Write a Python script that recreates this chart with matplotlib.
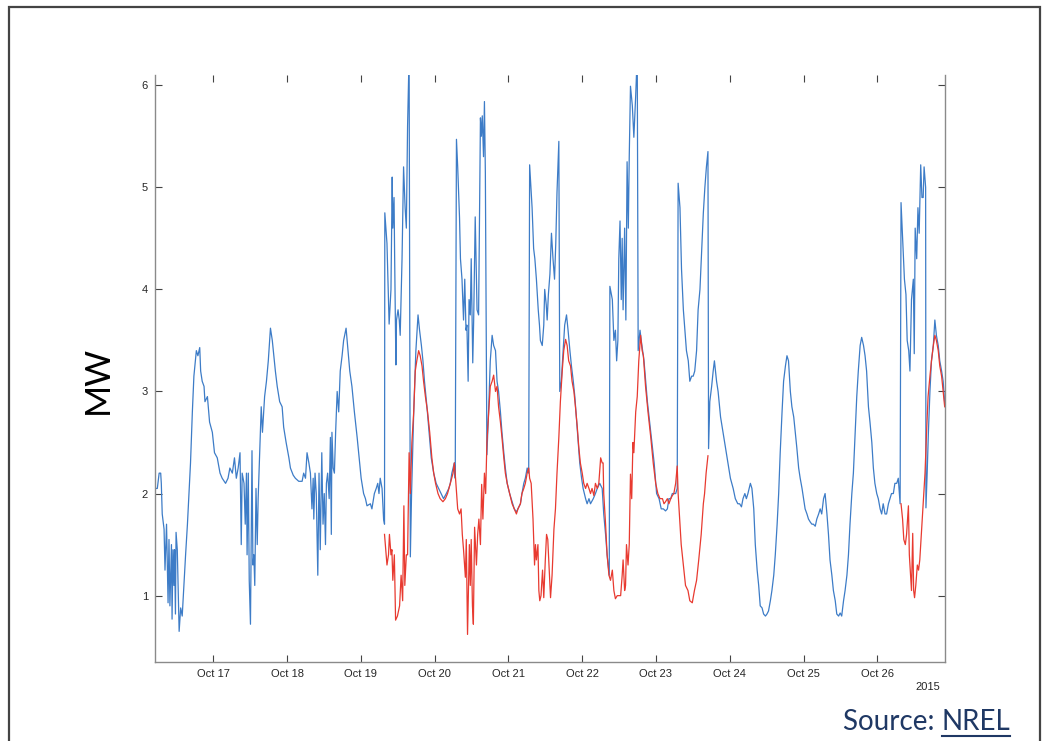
import numpy as np
import matplotlib
matplotlib.use("Agg")
import matplotlib.pyplot as plt
import matplotlib.dates as mdates
from matplotlib.patches import Rectangle
from matplotlib.lines import Line2D
from datetime import datetime, timedelta

# hours after 2015-10-16 00:00, and load in MW
blue_t = [
    5.1, 5.8, 6.4, 6.9, 7.1, 7.4, 8.0, 8.3, 8.8, 9.3, 9.6, 9.9, 10.4, 10.6, 10.9, 11.2, 11.4, 11.7,
    11.9, 12.3, 12.9, 13.4, 13.9, 15.0, 15.6, 16.1, 16.6, 17.2, 17.7, 18.5, 19.0, 19.6, 19.9, 20.4,
    21.0, 21.3, 22.1, 22.8, 23.7,
    24.4, 25.3, 26.2, 26.9, 28.0, 28.8, 29.4, 30.2, 30.9, 31.5, 32.1, 32.7, 33.1, 33.4, 34.0, 34.4,
    34.8, 35.0, 35.4, 35.7, 36.1, 36.6, 36.9, 37.2, 37.5, 37.9, 38.3, 38.6, 39.0, 39.6, 40.0, 40.7,
    41.3, 41.9, 42.6, 43.2, 43.7, 44.2, 44.8, 45.6, 46.4, 46.9, 47.7,
    48.6, 49.1, 50.0, 50.7, 51.8, 52.9, 53.4, 54.0, 54.5, 55.1, 55.6, 56.1, 56.5, 56.7, 57.1, 57.5,
    58.0, 58.4, 58.8, 59.3, 59.7, 60.1, 60.5, 60.8, 61.2, 61.7, 62.1, 62.4, 62.6, 63.0, 63.4, 63.8,
    64.3, 64.8, 65.3, 65.9, 66.4, 67.2, 67.7, 68.4, 69.1, 69.9, 70.8, 71.6,
    72.1, 72.9, 73.5, 74.0, 75.1, 75.6, 76.4, 77.0, 77.5, 77.9, 78.3, 78.9, 79.4, 79.7, 79.8, 80.5,
    81.2, 81.8, 82.2, 82.4, 82.8, 83.0, 83.4, 83.6, 84.1, 84.5, 84.8, 85.4, 85.9, 86.4, 86.8, 87.2,
    87.7, 88.1, 88.5, 89.2, 89.9, 90.6, 91.1, 91.7, 92.2, 92.7, 93.5, 94.2, 94.9, 95.7,
    96.5, 97.3, 98.1, 98.9, 99.8, 100.6, 101.1, 101.6, 102.4, 102.7, 103.1, 103.5, 104.1, 104.4,
    104.9, 105.4, 105.8, 106.2, 106.5, 106.9, 107.2, 107.6, 107.9, 108.4, 108.7, 109.2, 109.8,
    110.3, 110.9, 111.2, 111.5, 111.9, 112.2, 112.5, 113.0, 113.6, 114.1, 114.7, 115.2, 115.8,
    116.3, 116.8, 117.4, 117.9, 118.5, 119.0, 119.6,
    120.4, 121.2, 121.9, 122.6, 123.1, 123.9, 124.4, 125.0, 125.5, 126.1, 126.6, 126.9, 127.7,
    128.2, 128.6, 129.1, 129.7, 130.1, 130.4, 131.0, 131.5, 131.8, 132.3, 132.6, 133.0, 133.5,
    134.0, 134.5, 135.0, 135.4, 135.8, 136.4, 136.7, 137.2, 137.8, 138.3, 138.9, 139.4, 140.0,
    140.5, 141.1, 141.6, 142.1, 142.7, 143.2, 143.8,
    144.3, 145.1, 145.6, 146.2, 146.7, 147.6, 148.3, 148.9, 149.7, 150.5, 151.0, 151.6, 152.1,
    152.8, 153.0, 153.8, 154.3, 154.8, 155.2, 155.6, 155.9, 156.3, 156.7, 157.0, 157.3, 157.8,
    158.2, 158.6, 159.0, 159.3, 159.7, 160.3, 160.8, 161.4, 161.9, 162.2, 162.8, 163.2, 164.1,
    165.2, 166.3, 167.4,
    168.2, 169.0, 169.7, 170.4, 171.1, 171.7, 172.2, 172.8, 173.3, 173.8, 174.4, 174.9, 175.2,
    175.8, 176.3, 176.9, 177.4, 177.9, 178.5, 179.0, 179.6, 180.1, 180.6, 181.2, 181.7, 182.3,
    182.8, 183.4, 183.9, 184.4, 184.9, 185.1, 185.5, 186.1, 186.6, 187.0, 187.7, 188.2, 189.0,
    189.8, 190.6, 191.4,
    192.2, 193.1, 193.8, 194.6, 195.2, 195.8, 196.3, 196.9, 197.4, 197.9, 198.7, 199.2, 199.8,
    200.3, 200.9, 201.4, 201.9, 202.5, 203.0, 203.6, 204.1, 204.6, 205.2, 205.7, 206.3, 206.8,
    207.4, 207.9, 208.4, 209.0, 209.5, 210.1, 210.6, 211.1, 211.7, 212.2, 212.8, 213.3, 213.8,
    214.4, 214.9, 215.5,
    216.0, 216.5, 217.1, 217.6, 218.2, 218.7, 219.2, 219.8, 220.3, 220.9, 221.4, 221.9, 222.5,
    223.0, 223.6, 224.1, 224.6, 225.2, 225.7, 226.3, 226.8, 227.4, 227.9, 228.4, 229.0, 229.5,
    230.1, 230.6, 231.1, 231.7, 232.2, 232.8, 233.3, 233.8, 234.4, 234.9, 235.5, 236.0, 236.5,
    237.1, 237.6, 238.2, 238.7, 239.2, 239.8,
    240.3, 240.9, 241.4, 241.9, 242.5, 243.0, 243.6, 244.1, 244.6, 245.2, 245.7, 246.3, 246.8,
    247.4, 247.7, 248.2, 248.8, 249.3, 249.7, 250.2, 250.6, 251.1, 251.7, 252.0, 252.3, 252.8,
    253.2, 253.6, 254.1, 254.5, 254.9, 255.2, 255.7, 255.8, 256.2, 256.6, 257.1, 257.6, 258.2,
    258.7, 259.2, 259.8, 260.3, 260.9, 261.4, 261.9,
]
blue_mw = [
    2.05, 2.05, 2.2, 2.2, 2.1, 1.8, 1.65, 1.25, 1.7, 0.93, 1.55, 0.9, 1.5, 0.77, 1.45, 1.1, 1.45, 0.82,
    1.62, 1.45, 0.65, 0.88, 0.8, 1.4, 1.7, 2.0, 2.3, 2.8, 3.15, 3.4, 3.35, 3.43, 3.2, 3.1,
    3.05, 2.9, 2.95, 2.7, 2.6,
    2.4, 2.35, 2.2, 2.15, 2.1, 2.15, 2.25, 2.2, 2.35, 2.15, 2.25, 2.4, 1.5, 2.2, 2.1, 1.7,
    2.2, 1.4, 2.2, 1.15, 0.72, 2.42, 1.3, 1.4, 1.1, 2.05, 1.5, 1.95, 2.3, 2.85, 2.6, 2.95,
    3.1, 3.3, 3.62, 3.5, 3.35, 3.2, 3.05, 2.9, 2.85, 2.65, 2.5,
    2.35, 2.25, 2.18, 2.15, 2.12, 2.12, 2.2, 2.15, 2.4, 2.3, 2.2, 1.85, 2.15, 1.75, 2.2, 2.0,
    1.2, 2.2, 1.45, 2.4, 1.7, 2.0, 1.5, 2.1, 2.2, 1.95, 2.55, 1.6, 2.6, 2.25, 2.2, 2.6,
    3.0, 2.8, 3.2, 3.35, 3.5, 3.62, 3.45, 3.2, 3.05, 2.8, 2.55, 2.3,
    2.15, 2.0, 1.95, 1.88, 1.9, 1.85, 2.0, 2.05, 2.1, 2.0, 2.15, 2.05, 1.75, 1.7, 4.75, 4.45,
    3.66, 4.0, 5.1, 4.6, 4.9, 4.3, 3.26, 3.7, 3.8, 3.7, 3.55, 4.3, 5.2, 4.8, 4.6, 5.6,
    6.3, 1.38, 2.0, 2.8, 3.4, 3.75, 3.6, 3.45, 3.3, 3.1, 2.85, 2.6, 2.35, 2.2,
    2.1, 2.05, 2.0, 1.95, 2.0, 2.05, 2.1, 2.2, 2.3, 2.15, 5.47, 5.2, 4.7, 4.3,
    4.1, 3.7, 4.1, 3.6, 3.65, 3.1, 3.9, 3.75, 4.3, 3.28, 3.7, 4.71, 3.8,
    3.75, 5.68, 5.5, 5.7, 5.3, 5.84, 5.14, 2.38, 2.85, 3.3, 3.55, 3.45, 3.4,
    3.1, 3.0, 2.8, 2.6, 2.4, 2.25, 2.1,
    2.0, 1.92, 1.85, 1.82, 1.85, 1.9, 2.0, 2.1, 2.15, 2.25, 2.2, 5.22, 4.8,
    4.4, 4.3, 4.1, 3.8, 3.65, 3.5, 3.45, 3.65, 4.0, 3.85, 3.7, 3.95, 4.15,
    4.55, 4.3, 4.1, 4.45, 4.95, 5.45, 3.0, 3.1, 3.4, 3.65, 3.75, 3.6, 3.4,
    3.25, 3.1, 2.95, 2.75, 2.5, 2.3, 2.15,
    2.05, 1.95, 1.9, 1.95, 1.9, 1.95, 2.0, 2.05, 2.1, 2.05, 1.8, 1.6, 1.4,
    1.2, 4.03, 3.9, 3.5, 3.6, 3.3, 3.5, 4.3, 4.67, 3.9, 4.5, 3.8, 4.6,
    3.7, 5.25, 4.6, 5.3, 5.99, 5.8, 5.49, 5.9, 6.3, 3.4, 3.6, 3.5, 3.3,
    2.9, 2.6, 2.3,
    2.0, 1.95, 1.85, 1.85, 1.83, 1.85, 1.95, 1.95, 2.0, 2.0, 2.0, 2.05, 5.04,
    4.8, 4.2, 3.8, 3.6, 3.4, 3.3, 3.1, 3.15, 3.15, 3.2, 3.4, 3.8, 4.0,
    4.35, 4.75, 5.0, 5.2, 5.35, 2.44, 2.9, 3.05, 3.2, 3.3, 3.1, 3.0, 2.75,
    2.6, 2.45, 2.3,
    2.15, 2.05, 1.95, 1.9, 1.9, 1.87, 1.95, 2.0, 1.95, 2.0, 2.1, 2.05, 1.85,
    1.5, 1.25, 1.1, 0.9, 0.88, 0.82, 0.8, 0.82, 0.85, 0.95, 1.05, 1.2, 1.4,
    1.7, 2.0, 2.4, 2.8, 3.1, 3.25, 3.35, 3.3, 3.0, 2.85, 2.75, 2.6, 2.45,
    2.25, 2.15, 2.05,
    1.95, 1.85, 1.8, 1.75, 1.72, 1.7, 1.7, 1.68, 1.75, 1.8, 1.85, 1.8, 1.95,
    2.0, 1.8, 1.6, 1.35, 1.2, 1.05, 0.95, 0.82, 0.8, 0.83, 0.8, 0.95, 1.05,
    1.2, 1.4, 1.7, 2.0, 2.2, 2.6, 2.95, 3.2, 3.45, 3.53, 3.45, 3.35, 3.2,
    2.85, 2.7, 2.5, 2.25, 2.1, 2.0,
    1.95, 1.85, 1.8, 1.9, 1.8, 1.8, 1.9, 1.95, 2.0, 2.0, 2.1, 2.1, 2.15,
    1.9, 4.85, 4.5, 4.1, 3.95, 3.5, 3.4, 3.2, 3.9, 4.1, 3.37, 4.6, 4.3,
    4.8, 4.55, 5.22, 4.9, 4.9, 5.2, 5.0, 1.86, 2.2, 2.6, 3.0, 3.3, 3.45,
    3.7, 3.55, 3.45, 3.3, 3.2, 3.1, 2.89,
]

# red series, nan marks the gap between its two stretches
red_t = [
    79.7, 80.5, 81.0, 81.3, 81.8, 82.1, 82.4, 82.9, 83.3, 83.9, 84.6, 85.1, 85.6, 86.0, 86.3, 86.8,
    87.2, 87.7, 88.1, 88.6, 89.2, 89.7, 90.2, 90.8, 91.3, 91.9, 92.4, 93.0, 93.7, 94.4, 95.1, 95.7,
    96.3, 97.1, 97.8, 98.7, 99.5, 100.2, 101.1, 102.0, 102.4, 102.8, 103.5, 104.1, 104.6, 105.0,
    105.4, 106.0, 106.3, 106.7, 107.3, 107.6, 107.9, 108.3, 108.6, 109.0, 109.6, 110.0, 110.4,
    110.9, 111.3, 111.7, 112.2, 112.6, 113.0, 113.6, 114.1, 114.7, 115.2, 115.8, 116.3, 116.8,
    117.4, 117.9, 118.5, 119.0, 119.6,
    120.4, 121.2, 121.9, 122.6, 123.1, 123.9, 124.4, 125.0, 125.5, 126.1, 126.6, 126.9, 127.4,
    128.0, 128.5, 128.8, 129.1, 129.6, 129.9, 130.2, 130.6, 131.1, 131.5, 132.0, 132.4, 132.8,
    133.2, 133.7, 134.2, 134.8, 135.3, 135.8, 136.4, 136.9, 137.5, 138.0, 138.6, 139.1, 139.6,
    140.2, 140.7, 141.3, 141.8, 142.4, 142.9, 143.4,
    144.0, 144.5, 145.1, 145.6, 146.2, 146.7, 147.2, 147.8, 148.3, 148.9, 149.4, 150.0, 150.5,
    150.8, 151.0, 151.6, 152.1, 152.7, 153.2, 153.8, 154.3, 154.8, 155.4, 155.9, 156.5, 157.0,
    157.3, 157.8, 158.1, 158.4, 158.9, 159.3, 159.7, 160.1, 160.5, 160.8, 161.4, 161.9, 162.4,
    163.0, 163.5, 163.9, 164.6, 165.4, 166.3, 167.1, 167.9,
    168.6, 169.3, 170.1, 170.6, 171.1, 171.7, 172.2, 172.8, 173.3, 173.8, 174.4, 174.9, 175.2,
    175.8, 176.2, 176.9, 177.6, 178.4, 179.0, 179.8, 180.5, 181.2, 181.9, 182.7, 183.4, 183.8,
    184.3, 184.9,
    np.nan,
    247.7, 248.2, 248.6, 249.1, 249.5, 250.1, 250.4, 250.8, 251.1, 251.5, 251.8, 252.1, 252.5,
    253.0, 253.4, 253.8, 254.4, 254.9, 255.5, 256.0, 256.5, 257.1, 257.6, 258.2, 258.7, 259.2,
    259.8, 260.3, 260.9, 261.4, 261.9,
]
red_mw = [
    1.6, 1.3, 1.4, 1.6, 1.4, 1.45, 1.15, 1.4, 0.76, 0.8, 0.9, 1.2, 0.95, 1.88, 1.1, 1.4,
    1.4, 2.4, 2.0, 2.5, 2.8, 3.2, 3.3, 3.4, 3.35, 3.25, 3.1, 2.95, 2.8, 2.6, 2.35, 2.2,
    2.1, 2.0, 1.95, 1.92, 1.95, 2.0, 2.1, 2.2, 2.3, 2.15, 1.85, 1.8, 1.85, 1.6,
    1.45, 1.18, 1.55, 0.62, 1.5, 1.1, 1.55, 0.9, 0.72, 1.67, 1.3, 1.6, 1.75,
    1.5, 2.09, 1.75, 2.2, 2.0, 2.5, 2.8, 3.05, 3.1, 3.16, 3.0, 3.05, 2.85,
    2.7, 2.55, 2.35, 2.2, 2.1,
    2.0, 1.9, 1.85, 1.8, 1.85, 1.9, 2.0, 2.05, 2.1, 2.2, 2.25, 2.15, 2.1,
    1.75, 1.3, 1.5, 1.35, 1.5, 1.05, 0.95, 1.0, 1.25, 0.98, 1.35, 1.6, 1.55,
    1.3, 0.98, 1.2, 1.65, 1.85, 2.2, 2.55, 2.9, 3.2, 3.4, 3.51, 3.45, 3.3,
    3.25, 3.1, 3.0, 2.85, 2.65, 2.45, 2.3,
    2.2, 2.1, 2.05, 2.1, 2.05, 2.0, 2.05, 1.98, 2.1, 2.05, 2.1, 2.35, 2.3,
    2.3, 2.0, 1.7, 1.4, 1.2, 1.15, 1.25, 1.05, 0.97, 1.0, 1.0, 1.0, 1.2,
    1.35, 1.05, 1.1, 1.5, 1.3, 1.5, 2.19, 1.95, 2.5, 2.4, 2.8, 2.95, 3.3,
    3.55, 3.4, 3.35, 3.05, 2.8, 2.55, 2.3, 2.1,
    2.0, 1.95, 1.95, 1.9, 1.92, 1.95, 1.9, 1.95, 1.98, 2.0, 2.1, 2.27, 2.0,
    1.7, 1.5, 1.3, 1.1, 1.05, 0.95, 0.93, 1.05, 1.15, 1.35, 1.6, 1.9, 2.0,
    2.2, 2.37,
    np.nan,
    1.9, 1.75, 1.55, 1.5, 1.6, 1.88, 1.4, 1.2, 1.05, 1.61, 1.05, 0.98, 1.1,
    1.3, 1.25, 1.35, 1.65, 1.9, 2.2, 2.6, 2.95, 3.15, 3.3, 3.45, 3.55, 3.5,
    3.4, 3.25, 3.15, 3.0, 2.85,
]

start = datetime(2015, 10, 16)


def to_num(hours):
    return np.array([mdates.date2num(start + timedelta(hours=float(h))) if not np.isnan(h) else np.nan
                     for h in hours])


blue_x = to_num(blue_t)
red_x = to_num(red_t)

fig = plt.figure(figsize=(10.48, 7.41), dpi=100)
fig.patch.set_facecolor('white')

# slide frame
fig.add_artist(Rectangle((9 / 1048, -0.05), (1040 - 9) / 1048, 1 - 7 / 741 + 0.05,
                         transform=fig.transFigure, fill=False, edgecolor='#444444', lw=1.6))

ax = fig.add_axes([155 / 1048, 1 - 662 / 741, (945 - 155) / 1048, (662 - 75) / 741])
ax.plot(blue_x, blue_mw, color='#3d7cc7', lw=0.9)
ax.plot(red_x, red_mw, color='#e83a30', lw=0.9)

ax.set_xlim(mdates.date2num(start + timedelta(hours=5.05)), mdates.date2num(start + timedelta(hours=262.0)))
ax.set_ylim(0.35, 6.1)
ax.xaxis.set_major_locator(mdates.DayLocator())
ax.xaxis.set_major_formatter(mdates.DateFormatter('%b %d'))
ax.set_yticks([1, 2, 3, 4, 5, 6])
ax.set_yticklabels(['1', '2', '3', '4', '5', '6'])

for s in ['left', 'bottom', 'right']:
    ax.spines[s].set_color('#8a8a8a')
    ax.spines[s].set_linewidth(1.0)
ax.spines['top'].set_visible(False)
ax.tick_params(direction='in', length=5, width=0.8, color='#444444', top=True, right=True,
               labelsize=8, labelcolor='#262626', pad=5)
for lab in ax.get_xticklabels() + ax.get_yticklabels():
    lab.set_family('Liberation Sans')

fig.text(98 / 1048, 1 - 380 / 741, 'MW', rotation=90, ha='center', va='center',
         fontsize=25, family='Lato', color='black')
fig.text(940 / 1048, 1 - 687 / 741, '2015', ha='right', va='center', fontsize=8,
         family='Liberation Sans', color='#262626')

src = fig.text(843 / 1048, 1 - 730 / 741, 'Source: ', ha='left', va='baseline',
               fontsize=20, family='Lato', color='#1f3864')
fig.canvas.draw()
r = fig.canvas.get_renderer()
bb = src.get_window_extent(r)
nrel = fig.text(bb.x1 / 1048, 1 - 730 / 741, 'NREL', ha='left', va='baseline',
                fontsize=20, family='Lato', color='#1f3864')
fig.canvas.draw()
nb = nrel.get_window_extent(r)
fig.add_artist(Line2D([nb.x0 / 1048, nb.x1 / 1048], [1 - 736 / 741, 1 - 736 / 741],
                      transform=fig.transFigure, color='#1f3864', lw=1.5))

fig.savefig('out.png', dpi=100)
